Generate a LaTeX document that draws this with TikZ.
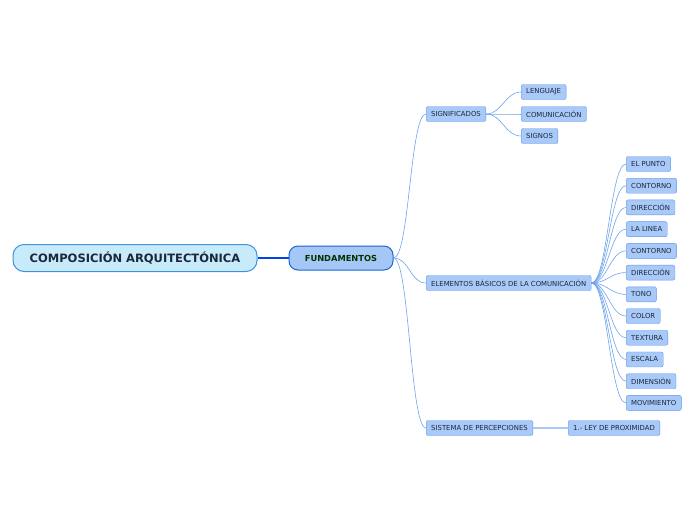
\documentclass[tikz,border=0pt]{standalone}
\usepackage{fontspec}
\setmainfont{DejaVu Sans}
\usepackage{xcolor}
\usetikzlibrary{positioning}
\definecolor{rootfill}{HTML}{C8EBFB}
\definecolor{rootdraw}{HTML}{3C94DC}
\definecolor{mainfill}{HTML}{A4C7F6}
\definecolor{maindraw}{HTML}{1F64D4}
\definecolor{leaffill}{HTML}{A9C9F9}
\definecolor{leafdraw}{HTML}{5E98EC}
\definecolor{linkcol}{HTML}{6FA2EE}
\definecolor{textcol}{HTML}{1B2838}

\begin{document}
\begin{tikzpicture}[x=1pt, y=-1pt,
  root/.style={draw=rootdraw, fill=rootfill, line width=1pt, rounded corners=11pt,
               minimum width=244pt, minimum height=27pt, text=textcol,
               font=\fontsize{11.5}{13}\selectfont\bfseries},
  topic/.style={draw=maindraw, fill=mainfill, line width=1pt, rounded corners=9pt,
                minimum width=104pt, minimum height=24pt, text={green!20!black},
                font=\fontsize{8.3}{9}\selectfont\bfseries},
  leaf/.style={draw=leafdraw, fill=leaffill, rounded corners=2pt, anchor=west,
               minimum height=15pt, inner xsep=5pt, text=textcol,
               font=\fontsize{6.9}{8}\selectfont},
  link/.style={draw=linkcol, line width=0.6pt}]
\useasboundingbox (0,0) rectangle (696,520);
% --- centre ---
\node[root] (comp) at (135,258) {COMPOSICIÓN ARQUITECTÓNICA};
\node[topic] (fund) at (341,258) {FUNDAMENTOS};
\draw[draw={blue!70!cyan!90!black}, line width=1.6pt] (comp) -- (fund);
% --- first level ---
\node[leaf] (signif) at (426,114) {SIGNIFICADOS};
\node[leaf] (elem) at (426,283) {ELEMENTOS BÁSICOS DE LA COMUNICACIÓN};
\node[leaf] (sist) at (426,428) {SISTEMA DE PERCEPCIONES};
\foreach \n in {signif,elem,sist}
  \draw[link] (fund.east) .. controls +(16,0) and +(-16,0) .. (\n.west);
% --- significados ---
\node[leaf] (leng) at (521,92) {LENGUAJE};
\node[leaf] (comun) at (521,114) {COMUNICACIÓN};
\node[leaf] (signos) at (521,136) {SIGNOS};
\foreach \n in {leng,comun,signos}
  \draw[link] (signif.east) .. controls +(16,0) and +(-16,0) .. (\n.west);
% --- elementos basicos ---
\foreach \t [count=\i] in {EL PUNTO, CONTORNO, DIRECCIÓN, LA LINEA, CONTORNO,
    DIRECCIÓN, TONO, COLOR, TEXTURA, ESCALA, DIMENSIÓN, MOVIMIENTO} {
  \node[leaf] (e\i) at (626,{164+21.72*(\i-1)}) {\t};
  \draw[link] (elem.east) .. controls +(16,0) and +(-16,0) .. (e\i.west);
}
% --- sistema de percepciones ---
\node[leaf] (ley) at (568,428) {1.- LEY DE PROXIMIDAD};
\draw[draw=leaffill, line width=1.6pt] (sist) -- (ley);
\end{tikzpicture}
\end{document}
